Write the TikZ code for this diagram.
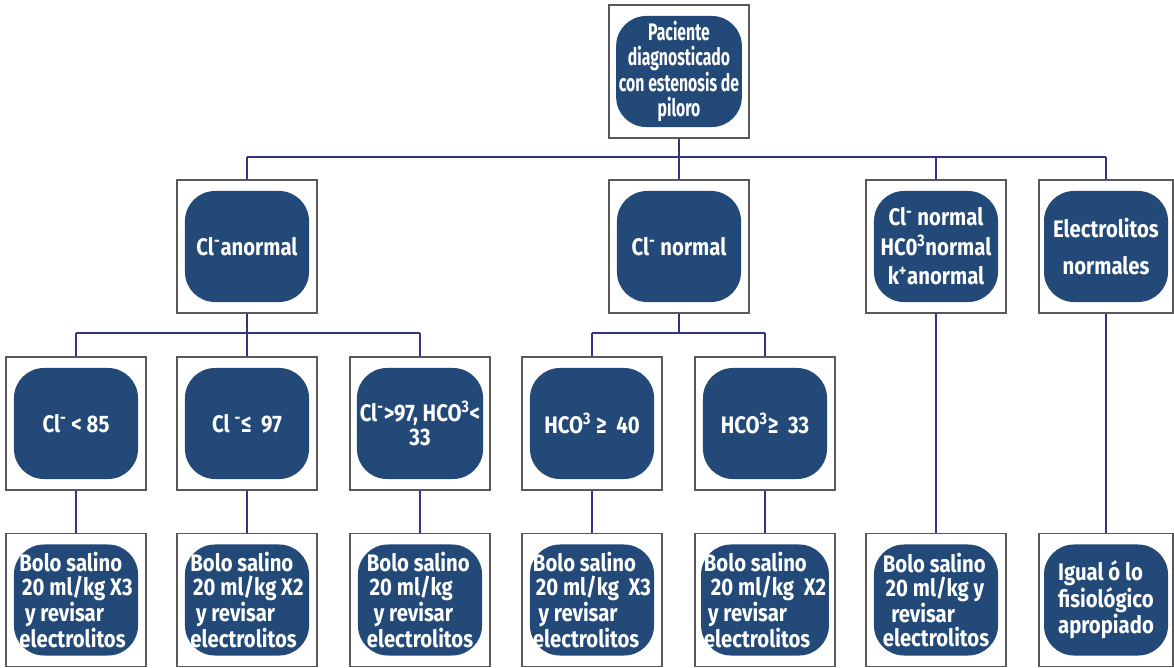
\documentclass[tikz,border=0pt]{standalone}
\usepackage{fontspec}
\setmainfont{Fira Sans}[FakeStretch=0.85]
\newfontfamily\estrecha{Fira Sans}[FakeStretch=0.66]
\usepackage{tikz}
\definecolor{azul}{RGB}{34,73,120}
\definecolor{trazo}{RGB}{50,50,135}
\tikzset{caja/.style={rectangle,draw=black!65,line width=1pt,fill=white,minimum width=3.5cm,minimum height=3.325cm,inner sep=0pt}}
\tikzset{nodo/.style={rectangle,rounded corners=0.75cm,fill=azul,text=white,align=center,font=\bfseries\fontsize{17}{17}\selectfont,minimum width=3.1cm,minimum height=2.775cm,inner sep=2pt}}
\tikzset{conector/.style={draw=trazo,line width=1.4pt}}

\begin{document}
\begin{tikzpicture}[x=0.025cm,y=-0.025cm]
\useasboundingbox (0,0) rectangle (1174,668);

\foreach \n / \x / \y in {P/679/71.5, A/247/246.5, N/679/246.5, K/936/246.5,
	A1/76/423.5, A2/247/423.5, A3/420/423.5, N1/592/423.5, N2/765/423.5,
	T1/76/600, T2/247/600, T3/420/600, T4/592/600, T5/765/600, T6/936/600} {
	\node (\n) at (\x,\y) [caja] {};
}
\node (E) at (1106,246.5) [caja,minimum width=3.35cm] {};
\node (T7) at (1106,600) [caja,minimum width=3.35cm] {};

\node (Pt) at (P) [nodo,font=\estrecha\bfseries\fontsize{17}{18}\selectfont] {Paciente\\diagnosticado\\con estenosis de\\piloro};
\node (At) at (A) [nodo] {Cl\textsuperscript{-}anormal};
\node (Nt) at (N) [nodo] {Cl\textsuperscript{-} normal};
\node (Kt) at (K) [nodo,font=\bfseries\fontsize{17}{21}\selectfont] {Cl\textsuperscript{-} normal\\HC0\textsuperscript{3}normal\\k\textsuperscript{+}anormal};
\node (Et) at (E) [nodo] {Electrolitos\\[10pt]normales};

\node (A1t) at (A1) [nodo] {Cl\textsuperscript{-} < 85};
\node (A2t) at (A2) [nodo] {Cl \textsuperscript{-}≤ \ 97};
\node (A3t) at (A3) [nodo] {Cl\textsuperscript{-}>97, HCO\textsuperscript{3}<\\33};
\node (N1t) at (N1) [nodo] {HCO\textsuperscript{3} ≥ \ 40};
\node (N2t) at (N2) [nodo] {HCO\textsuperscript{3}≥ \ 33};

\node (T1t) at (T1) [nodo,align=left] {Bolo salino\\\hspace*{2pt}20 ml/kg X3\\\hspace*{4pt}y revisar\\electrolitos};
\node (T2t) at (T2) [nodo,align=left] {Bolo salino\\\hspace*{2pt}20 ml/kg X2\\\hspace*{4pt}y revisar\\electrolitos};
\node (T3t) at (T3) [nodo,align=left] {Bolo salino\\\hspace*{2pt}20 ml/kg\\\hspace*{5pt}y revisar\\electrolitos};
\node (T4t) at (T4) [nodo,align=left] {Bolo salino\\\hspace*{2pt}20 ml/kg \ X3\\\hspace*{4pt}y revisar\\electrolitos};
\node (T5t) at (T5) [nodo,align=left] {Bolo salino\\\hspace*{5pt}20 ml/kg \ X2\\\hspace*{3pt}y revisar\\electrolitos};
\node (T6t) at (T6) [nodo,align=left] {Bolo salino\\\hspace*{2pt}20 ml/kg y\\\hspace*{6pt}revisar\\electrolitos};
\node (T7t) at (T7) [nodo,align=left] {Igual ó lo\\fisiológico\\apropiado};

\coordinate (bus1) at (0,157);
\coordinate (bus2) at (0,333);
\draw[conector] (P) -- (P |- bus1);
\draw[conector] (A |- bus1) -- (E |- bus1);
\foreach \n in {A,N,K,E} {
	\draw[conector] (\n) -- (\n |- bus1);
}
\draw[conector] (A) -- (A |- bus2);
\draw[conector] (A1 |- bus2) -- (A3 |- bus2);
\draw[conector] (N) -- (N |- bus2);
\draw[conector] (N1 |- bus2) -- (N2 |- bus2);
\foreach \n in {A1,A2,A3,N1,N2} {
	\draw[conector] (\n) -- (\n |- bus2);
}
\foreach \i / \j in {A1/T1,A2/T2,A3/T3,N1/T4,N2/T5,K/T6,E/T7} {
	\draw[conector] (\i) -- (\j);
}

\end{tikzpicture}
\end{document}
